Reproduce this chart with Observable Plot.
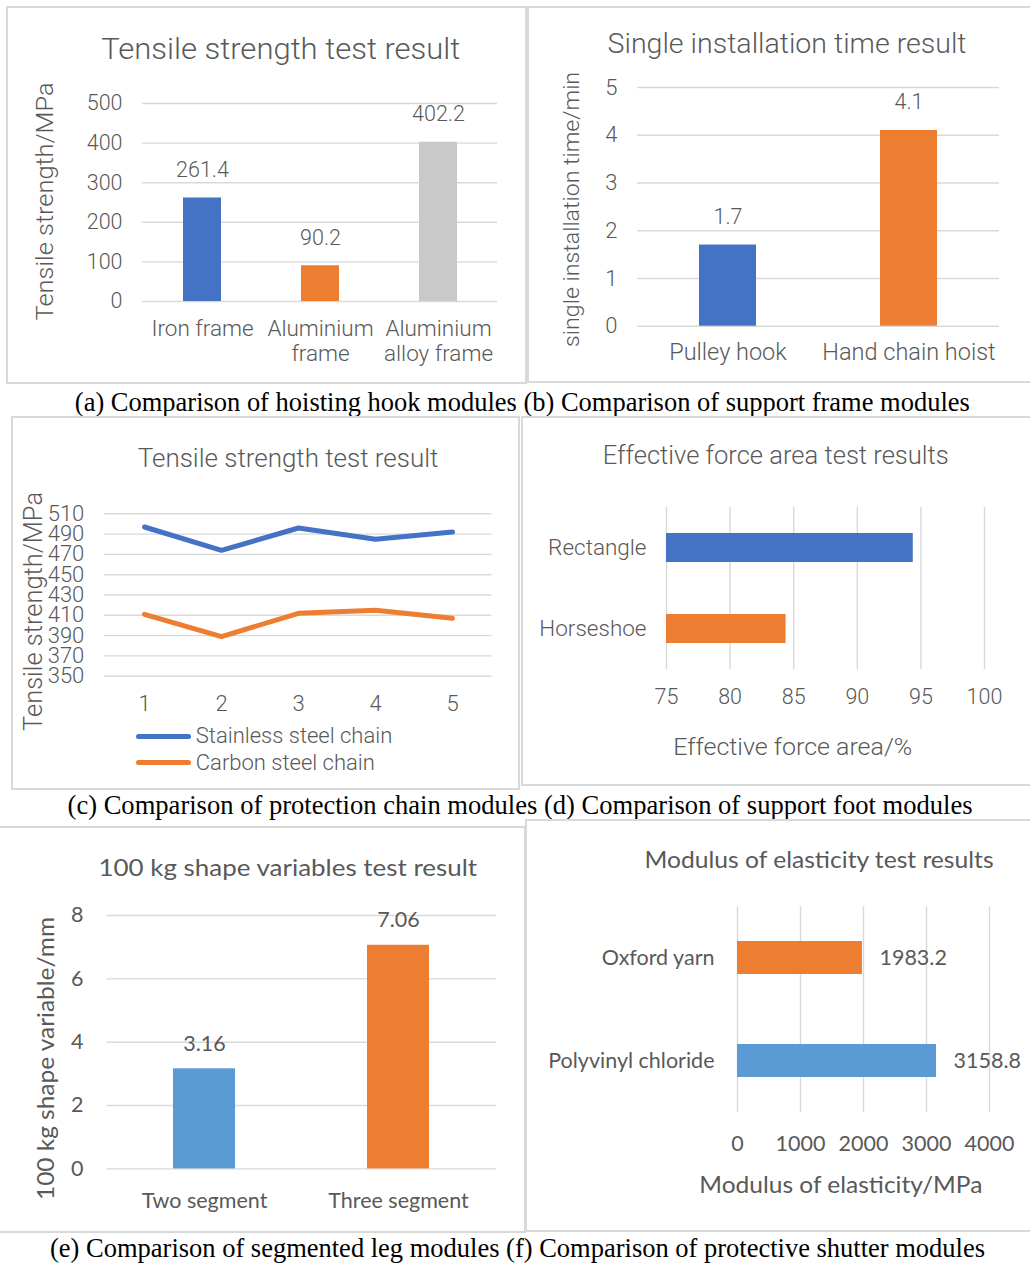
<!DOCTYPE html>
<html><head><meta charset="utf-8">
<script src="https://cdn.jsdelivr.net/npm/d3@7"></script>
<script src="https://cdn.jsdelivr.net/npm/@observablehq/plot@0.6"></script>
<style>
html,body{margin:0;padding:0;background:#fff;}
#root{position:relative;width:1030px;height:1267px;overflow:hidden;background:#fff;}
.box{position:absolute;border:2px solid #d9d9d9;box-sizing:border-box;pointer-events:none;}
.t{position:absolute;white-space:nowrap;line-height:1;}
</style></head><body><div id="root"></div>
<script>
// ---------- data ----------
const frameCategories = ["Iron frame", "Aluminium frame", "Aluminium alloy frame"];
const frameTickLabels = ["Iron frame", "Aluminium\nframe", "Aluminium\nalloy frame"];
const frameStrength = [261.4, 90.2, 402.2];
const frameTicks = [0, 100, 200, 300, 400, 500];

const hookCategories = ["Pulley hook", "Hand chain hoist"];
const hookTime = [1.7, 4.1];
const hookTicks = [0, 1, 2, 3, 4, 5];

const chainTests = [1, 2, 3, 4, 5];
const chainSeries = ["Stainless steel chain", "Carbon steel chain"];
const stainlessStrength = [497, 474, 496, 485, 492];
const carbonStrength = [411, 389, 412, 415, 407];
const chainTicks = [350, 370, 390, 410, 430, 450, 470, 490, 510];

const footCategories = ["Rectangle", "Horseshoe"];
const footArea = [94.4, 84.4];
const footTicks = [75, 80, 85, 90, 95, 100];

const legCategories = ["Two segment", "Three segment"];
const legShape = [3.16, 7.06];
const legTicks = [0, 2, 4, 6, 8];

const shutterCategories = ["Oxford yarn", "Polyvinyl chloride"];
const shutterModulus = [1983.2, 3158.8];
const shutterTicks = [0, 1000, 2000, 3000, 4000];

const captions = [
  "(a) Comparison of hoisting hook modules (b) Comparison of support frame modules",
  "(c) Comparison of protection chain modules (d) Comparison of support foot modules",
  "(e) Comparison of segmented leg modules (f) Comparison of protective shutter modules"
];

// ---------- style ----------
const ROBOTO = "Roboto, 'Noto Sans', sans-serif";
const LATO = "Lato, 'Open Sans', sans-serif";
const SERIF = "'Liberation Serif', 'Times New Roman', serif";
const GRAY = "#595959", GRID = "#d9d9d9";
const BLUE = "#4472c4", ORANGE = "#ed7d31", LBLUE = "#5b9bd5", SILVER = "#c9c9c9";

const root = document.getElementById("root");
function mount(svg, left, top) {
  Object.assign(svg.style, {position: "absolute", left: left + "px", top: top + "px"});
  root.appendChild(svg);
}
const st = (family, weight) => ({fontFamily: family, fontWeight: weight, color: GRAY, background: "transparent", overflow: "visible"});
function txt(s, cx, cy, o) {
  const el = document.createElement("div");
  el.className = "t"; el.textContent = s;
  Object.assign(el.style, {fontSize: o.size + "px", fontFamily: o.family || ROBOTO, color: o.color || GRAY, fontWeight: o.weight || 400});
  root.appendChild(el);
  const r = el.getBoundingClientRect();
  const sx = o.w ? o.w / r.width : 1;
  el.style.left = (cx - r.width / 2) + "px";
  el.style.top = (cy - r.height / 2) + "px";
  el.style.transform = `rotate(${o.rot || 0}deg) scaleX(${sx})`;
  return el;
}
function txtL(s, left, cy, o) {
  const el = document.createElement("div");
  el.className = "t"; el.textContent = s;
  Object.assign(el.style, {fontSize: o.size + "px", fontFamily: o.family || ROBOTO, color: o.color || GRAY, fontWeight: o.weight || 400});
  root.appendChild(el);
  const r = el.getBoundingClientRect();
  el.style.left = left + "px";
  el.style.top = (cy - r.height / 2) + "px";
  return el;
}
function box(x1, y1, x2, y2) {
  const el = document.createElement("div");
  el.className = "box";
  Object.assign(el.style, {left: x1 + "px", top: y1 + "px", width: (x2 - x1) + "px", height: (y2 - y1) + "px"});
  root.appendChild(el);
}
const gridOpts = {stroke: GRID, strokeOpacity: 1, strokeWidth: 1.4};

// ---------- (a) ----------
const frameRows = frameCategories.map((c, i) => ({c, v: frameStrength[i]}));
mount(Plot.plot({
  width: 515, height: 372, marginLeft: 134, marginRight: 26, marginTop: 95, marginBottom: 79,
  style: st(ROBOTO, 300),
  x: {type: "band", domain: frameCategories, paddingInner: 0.68, paddingOuter: 0.34, axis: null},
  y: {domain: [0, 500], axis: null},
  color: {domain: frameCategories, range: [BLUE, ORANGE, SILVER]},
  marks: [
    Plot.gridY(frameTicks, gridOpts),
    Plot.barY(frameRows, {x: "c", y: "v", fill: "c"}),
    Plot.text(frameRows, {x: "c", y: "v", text: d => d.v.toFixed(1), dy: -28, fontSize: 21.5, fill: GRAY}),
    Plot.axisY(frameTicks, {tickSize: 0, tickPadding: 20, fontSize: 21.5, label: null}),
    Plot.axisX({tickSize: 0, tickPadding: 17, fontSize: 22.5, lineHeight: 1.1, label: null,
      tickFormat: c => frameTickLabels[frameCategories.indexOf(c)]})
  ]
}), 8, 8);
txt("Tensile strength test result", 281, 49, {size: 30, w: 359, weight: 300});
txt("Tensile strength/MPa", 45.6, 201, {size: 24.8, w: 238, rot: -90, weight: 300});

// ---------- (b) ----------
const hookRows = hookCategories.map((c, i) => ({c, v: hookTime[i]}));
mount(Plot.plot({
  width: 502, height: 372, marginLeft: 109, marginRight: 31, marginTop: 79, marginBottom: 54.3,
  style: st(ROBOTO, 300),
  x: {type: "band", domain: hookCategories, paddingInner: 0.685, paddingOuter: 0.3425, axis: null},
  y: {domain: [0, 5], axis: null},
  color: {domain: hookCategories, range: [BLUE, ORANGE]},
  marks: [
    Plot.gridY(hookTicks, gridOpts),
    Plot.barY(hookRows, {x: "c", y: "v", fill: "c"}),
    Plot.text(hookRows, {x: "c", y: "v", text: d => d.v.toFixed(1), dy: -28, fontSize: 21.5, fill: GRAY}),
    Plot.axisY(hookTicks, {tickSize: 0, tickPadding: 20, fontSize: 22, label: null}),
    Plot.axisX({tickSize: 0, tickPadding: 17.6, fontSize: 23.5, label: null})
  ]
}), 528, 8);
txt("Single installation time result", 787, 44.3, {size: 28, w: 359, weight: 300});
txt("single installation time/min", 571.7, 209, {size: 22.8, w: 275, rot: -90, weight: 300});

// ---------- (c) ----------
const chainRows = chainSeries.flatMap((s, k) =>
  chainTests.map((t, i) => ({s, t, v: (k === 0 ? stainlessStrength : carbonStrength)[i]})));
mount(Plot.plot({
  width: 507, height: 370, marginLeft: 91.8, marginRight: 27.5, marginTop: 95.3, marginBottom: 112.3,
  style: st(ROBOTO, 300),
  x: {type: "point", domain: chainTests, padding: 0.5, axis: null},
  y: {domain: [350, 510], axis: null},
  color: {domain: chainSeries, range: [BLUE, ORANGE]},
  marks: [
    Plot.gridY(chainTicks, gridOpts),
    Plot.line(chainRows, {x: "t", y: "v", z: "s", stroke: "s", strokeWidth: 5, strokeLinejoin: "round", strokeLinecap: "round"}),
    Plot.axisY(chainTicks, {tickSize: 0, tickPadding: 20, fontSize: 22, label: null}),
    Plot.axisX({tickSize: 0, tickPadding: 19.5, fontSize: 22, label: null})
  ]
}), 12, 418);
txt("Tensile strength test result", 287.6, 458.5, {size: 25.4, w: 300.6, weight: 300});
txt("Tensile strength/MPa", 35, 611, {size: 24.9, w: 239, rot: -90, weight: 300});
chainSeries.forEach((s, i) => {
  const cy = 736.4 + i * 26.1;
  const sw = document.createElement("div");
  Object.assign(sw.style, {position: "absolute", left: "136px", top: (cy - 2.5) + "px", width: "55px", height: "5px",
    borderRadius: "2.5px", background: [BLUE, ORANGE][i]});
  root.appendChild(sw);
  txtL(s, 195.8, cy, {size: 22, weight: 300});
});

// ---------- (d) ----------
const footRows = footCategories.map((c, i) => ({c, v: footArea[i]}));
mount(Plot.plot({
  width: 508, height: 367, marginLeft: 144, marginRight: 46, marginTop: 89, marginBottom: 116,
  style: st(ROBOTO, 300),
  x: {domain: [footTicks[0], footTicks[footTicks.length - 1]], axis: null},
  y: {type: "band", domain: footCategories, paddingInner: 0.636, paddingOuter: 0.318, axis: null},
  color: {domain: footCategories, range: [BLUE, ORANGE]},
  marks: [
    Plot.gridX(footTicks, gridOpts),
    Plot.barX(footRows, {y: "c", x1: footTicks[0], x2: "v", fill: "c"}),
    Plot.axisX(footTicks, {tickSize: 0, tickPadding: 19.4, fontSize: 21.5, label: null}),
    Plot.axisY({tickSize: 0, tickPadding: 20, fontSize: 22.5, label: null})
  ]
}), 522, 418);
txt("Effective force area test results", 776, 456, {size: 25.5, w: 346, weight: 300});
txt("Effective force area/%", 793, 747, {size: 24.4, w: 239, weight: 300});

// ---------- (e) ----------
const legRows = legCategories.map((c, i) => ({c, v: legShape[i]}));
mount(Plot.plot({
  width: 524, height: 402, marginLeft: 106.5, marginRight: 28, marginTop: 87, marginBottom: 61.6,
  style: st(LATO, 400),
  x: {type: "band", domain: legCategories, paddingInner: 0.682, paddingOuter: 0.341, axis: null},
  y: {domain: [0, 8], axis: null},
  color: {domain: legCategories, range: [LBLUE, ORANGE]},
  marks: [
    Plot.gridY(legTicks, gridOpts),
    Plot.barY(legRows, {x: "c", y: "v", fill: "c"}),
    Plot.text(legRows, {x: "c", y: "v", text: d => d.v.toFixed(2), dy: -25, fontSize: 21.5, fill: GRAY}),
    Plot.axisY(legTicks, {tickSize: 0, tickPadding: 23.5, fontSize: 21.5, label: null}),
    Plot.axisX({tickSize: 0, tickPadding: 23.7, fontSize: 21.5, label: null})
  ]
}), 0, 828);
txt("100 kg shape variables test result", 287.4, 867.7, {size: 23, w: 378.6, family: LATO});
txt("100 kg shape variable/mm", 45, 1058.3, {size: 23, w: 283, rot: -90, family: LATO});

// ---------- (f) ----------
const shutterRows = shutterCategories.map((c, i) => ({c, v: shutterModulus[i]}));
mount(Plot.plot({
  width: 503, height: 410, marginLeft: 210, marginRight: 41, marginTop: 85, marginBottom: 119,
  style: st(LATO, 400),
  x: {domain: [0, 4000], axis: null},
  y: {type: "band", domain: shutterCategories, paddingInner: 0.68, paddingOuter: 0.34, axis: null},
  color: {domain: shutterCategories, range: [ORANGE, LBLUE]},
  marks: [
    Plot.gridX(shutterTicks, gridOpts),
    Plot.barX(shutterRows, {y: "c", x: "v", fill: "c"}),
    Plot.text(shutterRows, {y: "c", x: "v", text: d => d.v.toFixed(1), dx: 17, textAnchor: "start", fontSize: 21.5, fill: GRAY}),
    Plot.axisX(shutterTicks, {tickSize: 0, tickPadding: 23, fontSize: 21.5, label: null, tickFormat: d => String(d)}),
    Plot.axisY({tickSize: 0, tickPadding: 23, fontSize: 21.5, label: null})
  ]
}), 527, 821);
txt("Modulus of elasticity test results", 819, 859, {size: 23, w: 349, family: LATO});
txt("Modulus of elasticity/MPa", 841, 1184, {size: 23, w: 283, family: LATO});

// ---------- captions ----------
txt(captions[0], 522, 402, {size: 27, w: 895, family: SERIF, color: "#000"});
txt(captions[1], 520, 805, {size: 27, w: 905, family: SERIF, color: "#000"});
txt(captions[2], 518, 1248, {size: 27, w: 935, family: SERIF, color: "#000"});

// ---------- panel borders ----------
box(6, 6, 527, 384);
box(527, 6, 1034, 383);
box(11, 416, 520, 790);
box(521, 416, 1034, 786);
box(-3, 826, 526, 1233);
box(525, 819, 1034, 1232);
</script>
</body></html>
